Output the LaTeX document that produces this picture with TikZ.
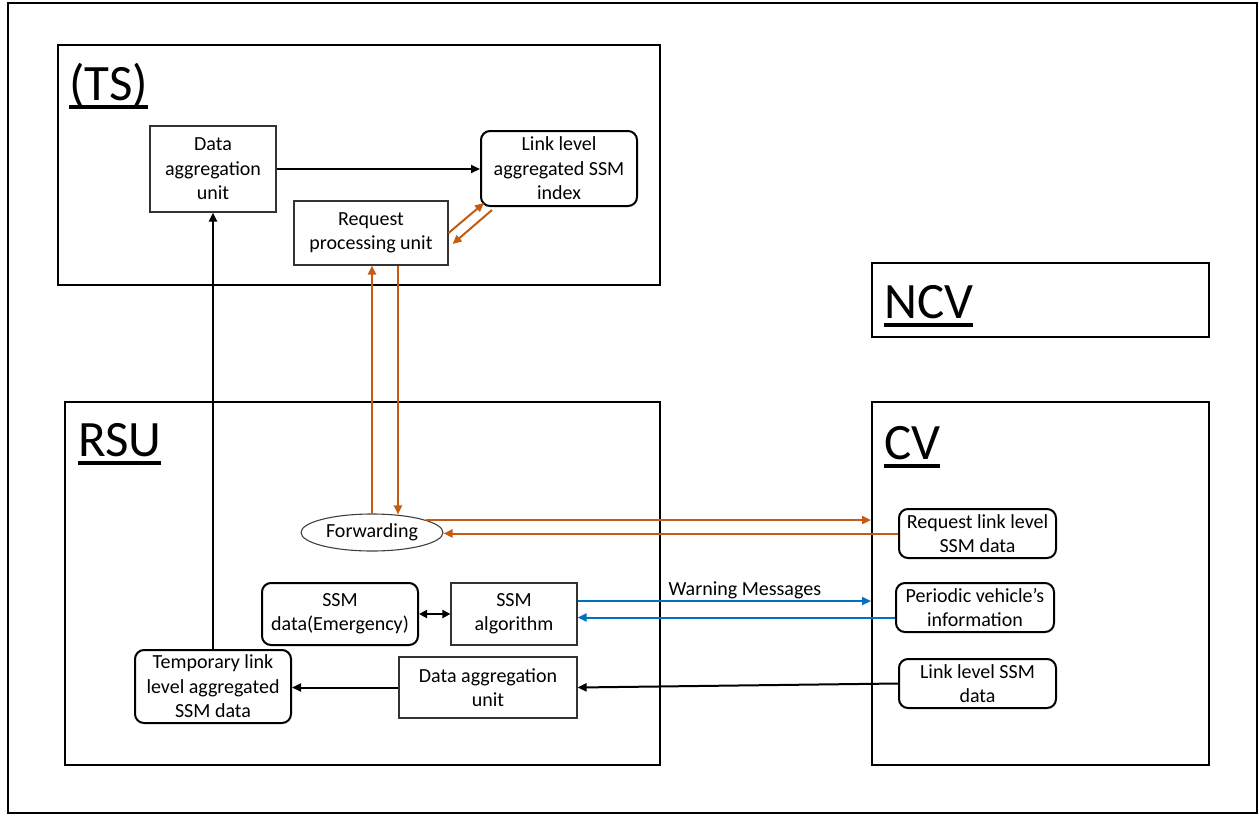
\documentclass[tikz,border=0pt]{standalone}
\usepackage{fontspec}
\setmainfont{Carlito}
\usetikzlibrary{arrows.meta,shapes.geometric,calc}
\definecolor{orng}{HTML}{C55A11}
\definecolor{blu}{HTML}{0070C0}
\newcommand\thickul[1]{\setbox0\hbox{#1}\rlap{\rule[-9pt]{\wd0}{3.6pt}}\box0}
\begin{document}
\begin{tikzpicture}[x=1pt,y=-1pt,
  every node/.style={font=\fontsize{20}{24.4}\selectfont, align=center, inner sep=0pt},
  frame/.style={draw, line width=2pt},
  sqbox/.style={draw=black!80, line width=1.1pt},
  rbox/.style={draw, line width=2pt, rounded corners=9pt},
  lbl/.style={anchor=base west, font=\fontsize{51}{60}\selectfont},
  arr/.style={line width=2pt, -{Triangle[length=9pt,width=8pt]}},
  darr/.style={line width=2pt, {Triangle[length=8pt,width=8pt]}-{Triangle[length=8pt,width=8pt]}},
  oarr/.style={arr, draw=orng},
  barr/.style={arr, draw=blu}]
\useasboundingbox (0,0) rectangle (1259,815);
\draw[frame] (8,3) rectangle (1257,813);

% containers
\node[frame, minimum width=602pt, minimum height=240pt] (ts) at (359,165) {};
\node[frame, minimum width=337pt, minimum height=74pt] (ncv) at (1040.5,300) {};
\node[frame, minimum width=595pt, minimum height=363pt] (rsu) at (362.5,583.5) {};
\node[frame, minimum width=337pt, minimum height=363pt] (cv) at (1040.5,583.5) {};

\node[lbl] (tslbl) at (69,100) {\thickul{(TS)}};
\node[lbl] (ncvlbl) at (884,318) {\thickul{NCV}};
\node[lbl] (rsulbl) at (78,456) {\thickul{RSU}};
\node[lbl] (cvlbl) at (884,459) {\thickul{CV}};

% TS content
\node[sqbox, minimum width=126pt, minimum height=86pt] (tsdau) at (213,169) {Data\\aggregation\\unit};
\node[rbox, minimum width=156pt, minimum height=75pt] (llasi) at (559,168.5) {Link level\\aggregated SSM\\index};
\node[sqbox, minimum width=154pt, minimum height=64pt] (rpu) at (371,233) {Request\\processing unit};

% RSU content
\node[ellipse, draw=black!75, line width=1.1pt, minimum width=142pt, minimum height=37pt] (fwd) at (372,532.5) {Forwarding};
\node[rbox, minimum width=156pt, minimum height=62pt] (ssmde) at (340,614) {SSM\\data(Emergency)};
\node[sqbox, minimum width=126pt, minimum height=62pt] (ssma) at (514,614) {SSM\\algorithm};
\node[sqbox, minimum width=178pt, minimum height=61pt] (rdau) at (488,687.5) {Data aggregation\\unit};
\node[rbox, minimum width=156pt, minimum height=73pt] (tmp) at (213,686.5) {Temporary link\\level aggregated\\SSM data};

% CV content
\node[rbox, minimum width=157pt, minimum height=49pt] (rllsd) at (977.5,533.5) {Request link level\\SSM data};
\node[rbox, minimum width=158pt, minimum height=49pt] (pvi) at (975,607.5) {Periodic vehicle’s\\information};
\node[rbox, minimum width=157pt, minimum height=49pt] (llsd) at (977.5,683.5) {Link level SSM\\data};

% connectors
\draw[arr] (tsdau.east) -- (tsdau.east -| llasi.west);
\draw[arr] (tmp.north) -- (tsdau.south);
\draw[oarr] (rpu.east) -- ($(llasi.south west)+(4,-4)$);
\draw[oarr] ($(llasi.south west)+(12,3)$) -- ($(rpu.east)+(4,11)$);
\draw[oarr] (fwd.north) -- (fwd.north |- rpu.south);
\draw[oarr] ($(rpu.south)+(27,0)$) -- ($(fwd.north)+(26,1)$);
\draw[oarr] (fwd.13) -- (fwd.13 -| cv.west);
\draw[oarr] (rllsd.west) -- (rllsd.west -| fwd.east);
\draw[darr] (ssmde.east) -- (ssma.west);
\coordinate (wm1) at ($(ssma.east)+(0,-13)$);
\draw[barr] (wm1) -- (wm1 -| cv.west) node[pos=0.57, above=1pt] (wmlbl) {Warning Messages};
\coordinate (pv1) at ($(pvi.west)+(0,10)$);
\draw[barr] (pv1) -- (pv1 -| ssma.east);
\draw[arr] (llsd.west) -- (rdau.east);
\draw[arr] (rdau.west) -- (rdau.west -| tmp.east);
\end{tikzpicture}
\end{document}
